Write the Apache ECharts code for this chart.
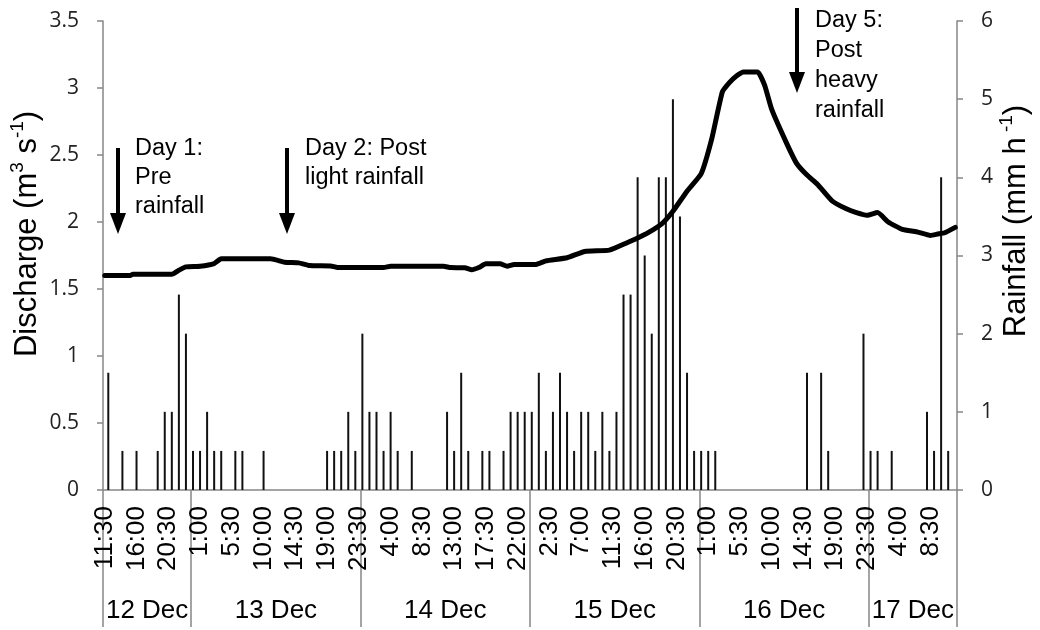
<!DOCTYPE html>
<html>
<head>
<meta charset="utf-8">
<script src="https://cdn.jsdelivr.net/npm/echarts@6/dist/echarts.min.js"></script>
<style>
html,body{margin:0;padding:0;background:#fff;}
#chart{width:1040px;height:630px;}
</style>
</head>
<body>
<div id="chart"></div>
<script>
// ---- data ----
const days = ['12 Dec', '13 Dec', '14 Dec', '15 Dec', '16 Dec', '17 Dec'];
const firstTime = '11:30';   // first half-hour slot on 12 Dec
const lastTime = '12:00';    // last half-hour slot on 17 Dec
const labelEvery = 9;        // one time label every 9 half-hour slots (4.5 h)

// hourly rainfall (mm h-1) starting 12 Dec 12:00
const rainfallStart = '12 Dec 12:00';
const rainfall = [
  1.5, 0, 0.5, 0, 0.5, 0, 0, 0.5, 1.0, 1.0, 2.5, 2.0,      // 12 Dec 12:00-23:00
  0.5, 0.5, 1.0, 0.5, 0.5, 0, 0.5, 0.5, 0, 0, 0.5, 0,      // 13 Dec 0:00-11:00
  0, 0, 0, 0, 0, 0, 0, 0.5, 0.5, 0.5, 1.0, 0.5,            // 13 Dec 12:00-23:00
  2.0, 1.0, 1.0, 0.5, 1.0, 0.5, 0, 0.5, 0, 0, 0, 0,        // 14 Dec 0:00-11:00
  1.0, 0.5, 1.5, 0.5, 0, 0.5, 0.5, 0, 0.5, 1.0, 1.0, 1.0,  // 14 Dec 12:00-23:00
  1.0, 1.5, 0.5, 1.0, 1.5, 1.0, 0.5, 1.0, 1.0, 0.5, 1.0, 0.5, // 15 Dec 0:00-11:00
  1.0, 2.5, 2.5, 4.0, 3.0, 2.0, 4.0, 4.0, 5.0, 3.5, 1.5, 0.5, // 15 Dec 12:00-23:00
  0.5, 0.5, 0.5, 0, 0, 0, 0, 0, 0, 0, 0, 0,                // 16 Dec 0:00-11:00
  0, 0, 0, 1.5, 0, 1.5, 0.5, 0, 0, 0, 0, 2.0,              // 16 Dec 12:00-23:00
  0.5, 0.5, 0, 0.5, 0, 0, 0, 0, 1.0, 0.5, 4.0, 0.5,        // 17 Dec 0:00-11:00
  0                                                        // 17 Dec 12:00
];

// discharge (m3 s-1)
const dischargeTimes = [
  '12 Dec 11:30', '12 Dec 15:00', '12 Dec 15:30', '12 Dec 21:00', '12 Dec 22:00', '12 Dec 23:00',
  '13 Dec 1:00', '13 Dec 3:00', '13 Dec 4:00', '13 Dec 11:00', '13 Dec 13:00', '13 Dec 15:00',
  '13 Dec 16:30', '13 Dec 19:30', '13 Dec 20:30',
  '14 Dec 3:00', '14 Dec 4:00', '14 Dec 5:30', '14 Dec 11:30', '14 Dec 12:30', '14 Dec 14:30',
  '14 Dec 15:30', '14 Dec 16:30', '14 Dec 17:30', '14 Dec 19:30', '14 Dec 20:30', '14 Dec 21:30',
  '15 Dec 0:30', '15 Dec 2:00', '15 Dec 5:00', '15 Dec 7:30', '15 Dec 11:00', '15 Dec 13:30',
  '15 Dec 15:00', '15 Dec 16:30', '15 Dec 18:30', '15 Dec 20:00', '15 Dec 22:00',
  '16 Dec 0:00', '16 Dec 1:30', '16 Dec 3:00', '16 Dec 4:00', '16 Dec 5:00', '16 Dec 6:00',
  '16 Dec 8:00', '16 Dec 9:00', '16 Dec 10:00', '16 Dec 12:00', '16 Dec 13:30', '16 Dec 15:00',
  '16 Dec 16:30', '16 Dec 18:30', '16 Dec 20:30', '16 Dec 22:00', '16 Dec 23:30',
  '17 Dec 1:00', '17 Dec 2:30', '17 Dec 4:30', '17 Dec 6:30', '17 Dec 8:30', '17 Dec 9:30',
  '17 Dec 10:30', '17 Dec 12:00'
];
const dischargeValues = [
  1.60, 1.60, 1.61, 1.61, 1.64, 1.665,
  1.67, 1.69, 1.725, 1.725, 1.70, 1.695,
  1.675, 1.672, 1.66,
  1.66, 1.67, 1.67, 1.67, 1.66, 1.658,
  1.643, 1.66, 1.688, 1.688, 1.67, 1.683,
  1.683, 1.71, 1.733, 1.78, 1.79, 1.845,
  1.88, 1.92, 1.99, 2.08, 2.23,
  2.36, 2.62, 2.97, 3.04, 3.09, 3.12,
  3.12, 3.02, 2.84, 2.60, 2.44, 2.35,
  2.28, 2.16, 2.10, 2.07, 2.05,
  2.07, 2.00, 1.945, 1.927, 1.90, 1.91,
  1.92, 1.96
];

const dischargeTicks = [0, 0.5, 1, 1.5, 2, 2.5, 3, 3.5];
const rainfallTicks = [0, 1, 2, 3, 4, 5, 6];

// ---- build categories (half-hour slots) ----
function slotName(k) { return Math.floor(k / 2) + ':' + (k % 2 ? '30' : '00'); }
function slotIndex(t) { const p = t.split(':'); return (+p[0]) * 2 + (p[1] === '30' ? 1 : 0); }
const categories = [];
const dayStart = [];
days.forEach(function (d, di) {
  const from = di === 0 ? slotIndex(firstTime) : 0;
  const to = di === days.length - 1 ? slotIndex(lastTime) : 47;
  dayStart.push(categories.length);
  for (let k = from; k <= to; k++) categories.push(d + ' ' + slotName(k));
});
const nCat = categories.length;
const dayBounds = dayStart.concat([nCat]);
const dayCenters = days.map(function (d, i) { return (dayBounds[i] + dayBounds[i + 1]) / 2; });

const r0 = categories.indexOf(rainfallStart);
const rainData = [];
rainfall.forEach(function (v, j) { if (v > 0) rainData.push([categories[r0 + 2 * j], v]); });
const lineData = dischargeTimes.map(function (t, i) { return [t, dischargeValues[i]]; });

// ---- chart ----
const AX = '#868686';
const chart = echarts.init(document.getElementById('chart'), null, { renderer: 'canvas' });
const annFont = '23.5px "Liberation Sans", Arial, sans-serif';
const titleRich = {
  a: { fontSize: 31, fontFamily: '"Liberation Sans", Arial, sans-serif', fill: '#000', lineHeight: 38 },
  s: { fontSize: 19, fontFamily: '"Liberation Sans", Arial, sans-serif', fill: '#000', verticalAlign: 'top', lineHeight: 38 }
};
chart.setOption({
  animation: false,
  backgroundColor: '#fff',
  grid: { left: 103, right: 83, top: 21, bottom: 140, containLabel: false },
  xAxis: [
    {
      type: 'category', data: categories, boundaryGap: true, position: 'bottom',
      axisLine: { show: true, lineStyle: { color: AX, width: 1.5 } },
      axisTick: { show: false },
      axisLabel: {
        interval: labelEvery - 1, rotate: 90, margin: 16,
        fontFamily: '"Liberation Sans", Arial, sans-serif', fontSize: 26, color: '#000',
        formatter: function (v) { return v.split(' ')[2]; }
      },
      splitLine: { show: false }
    },
    {
      type: 'value', min: 0, max: nCat, position: 'bottom', gridIndex: 0,
      axisLine: { show: false },
      axisTick: { show: true, customValues: dayBounds, length: 137, lineStyle: { color: AX, width: 1.5 } },
      axisLabel: {
        show: true, customValues: dayCenters, margin: 108,
        fontFamily: '"Liberation Sans", Arial, sans-serif', fontSize: 26, color: '#000',
        formatter: function (v) {
          for (let i = 0; i < dayCenters.length; i++) if (Math.abs(dayCenters[i] - v) < 0.01) return days[i];
          return '';
        }
      },
      splitLine: { show: false }
    }
  ],
  yAxis: [
    {
      type: 'value', min: 0, max: 3.5, interval: 0.5, position: 'left',
      axisLine: { show: true, lineStyle: { color: AX, width: 1.5 } },
      axisTick: { show: true, inside: false, length: 6, lineStyle: { color: AX, width: 1.5 } },
      axisLabel: { margin: 24, fontFamily: '"Open Sans", sans-serif', fontSize: 21, color: '#222',
        customValues: dischargeTicks },
      splitLine: { show: false }
    },
    {
      type: 'value', min: 0, max: 6, interval: 1, position: 'right',
      axisLine: { show: true, lineStyle: { color: AX, width: 1.5 } },
      axisTick: { show: true, inside: false, length: 6, lineStyle: { color: AX, width: 1.5 } },
      axisLabel: { margin: 24, fontFamily: '"Open Sans", sans-serif', fontSize: 21, color: '#222',
        customValues: rainfallTicks },
      splitLine: { show: false }
    }
  ],
  series: [
    {
      name: 'Rainfall', type: 'bar', xAxisIndex: 0, yAxisIndex: 1,
      barWidth: 2, itemStyle: { color: '#111' }, data: rainData, z: 2
    },
    {
      name: 'Discharge', type: 'line', xAxisIndex: 0, yAxisIndex: 0,
      showSymbol: false, symbol: 'none', smooth: 0.15,
      lineStyle: { color: '#000', width: 5, join: 'round', cap: 'round' },
      data: lineData, z: 3
    }
  ],
  graphic: [
    { type: 'text', x: 27, y: 234, rotation: Math.PI / 2,
      style: { text: '{a|Discharge (m}{s|3}{a| s}{s|-1}{a|)}', align: 'center', verticalAlign: 'middle', rich: titleRich } },
    { type: 'text', x: 1016, y: 221, rotation: Math.PI / 2,
      style: { text: '{a|Rainfall (mm h}{s| -1}{a|)}', align: 'center', verticalAlign: 'middle', rich: titleRich } },
    // annotation arrows
    { type: 'rect', shape: { x: 116, y: 148, width: 4, height: 68 }, style: { fill: '#000' } },
    { type: 'polygon', shape: { points: [[110, 213], [126, 213], [118, 234]] }, style: { fill: '#000' } },
    { type: 'rect', shape: { x: 285, y: 148, width: 4, height: 68 }, style: { fill: '#000' } },
    { type: 'polygon', shape: { points: [[279, 213], [295, 213], [287, 234]] }, style: { fill: '#000' } },
    { type: 'rect', shape: { x: 795, y: 8, width: 4, height: 67 }, style: { fill: '#000' } },
    { type: 'polygon', shape: { points: [[789, 72], [805, 72], [797, 93]] }, style: { fill: '#000' } },
    { type: 'text', x: 135, y: 134, style: { text: 'Day 1:\nPre\nrainfall', font: annFont, fill: '#000', lineHeight: 29, verticalAlign: 'top' } },
    { type: 'text', x: 305, y: 134, style: { text: 'Day 2: Post\nlight rainfall', font: annFont, fill: '#000', lineHeight: 29, verticalAlign: 'top' } },
    { type: 'text', x: 815, y: 6, style: { text: 'Day 5:\nPost\nheavy\nrainfall', font: annFont, fill: '#000', lineHeight: 30, verticalAlign: 'top' } }
  ]
});
</script>
</body>
</html>
